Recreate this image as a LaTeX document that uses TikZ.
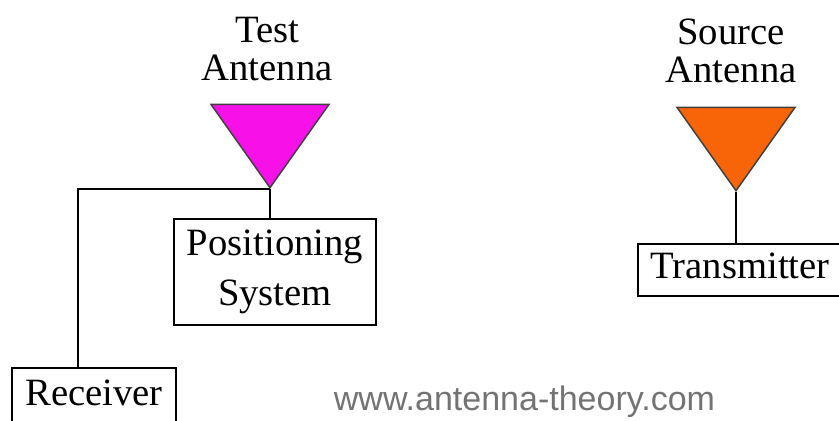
\documentclass[tikz,border=0pt]{standalone}
\usepackage{fontspec}
\setmainfont{Liberation Serif}
\newfontfamily\urlfont{Liberation Sans}
\usetikzlibrary{shapes.geometric, positioning}
\definecolor{antmagenta}{HTML}{F810E8}
\definecolor{antorange}{HTML}{F86408}

\begin{document}
\begin{tikzpicture}[
        x=0.75pt, y=-0.75pt,
        font=\fontsize{29}{28}\selectfont,
        box/.style={draw, line width=1.1pt, inner sep=0pt, align=center},
        antenna/.style={isosceles triangle, isosceles triangle apex angle=70, isosceles triangle stretches,
            shape border rotate=-90, draw=black!75, line width=1.1pt, inner sep=0pt,
            minimum width=88.5pt, minimum height=62.5pt, anchor=apex},
        lbl/.style={align=center, inner sep=0pt},
        wire/.style={line width=1.1pt}
    ]
        \useasboundingbox (0,0) rectangle (839,421);

        % Antennas
        \node[antenna, fill=antmagenta] (testant) at (270,189) {};
        \node[antenna, fill=antorange]  (srcant)  at (736,192) {};
        \node[lbl] (testlbl) at (267,49) {Test\\Antenna};
        \node[lbl] (srclbl)  at (731,51) {Source\\Antenna};

        % Boxes
        \node[box, minimum width=151.5pt, minimum height=79.5pt, font=\fontsize{29}{37.5}\selectfont] (possys) at (275,272) {Positioning\\System};
        \node[box, minimum width=123pt, text height=27.75pt, text depth=22pt, anchor=base] (recv) at (94,405) {Receiver};
        \node[box, minimum width=153pt, text height=25.5pt, text depth=13.5pt, anchor=base] (trans) at (740,278) {Transmitter};
        \coordinate (recvin) at (78,368);

        \draw[wire] (testant.apex) -- (testant.apex |- possys.north);
        \draw[wire] (testant.apex) -| (recvin);
        \draw[wire] (srcant.apex) -- (srcant.apex |- trans.north);

        \node[inner sep=0pt, text=black!55, font=\urlfont\fontsize{25.5}{28}\selectfont] (site) at (524.5,402) {www.antenna-theory.com};
    \end{tikzpicture}
\end{document}
